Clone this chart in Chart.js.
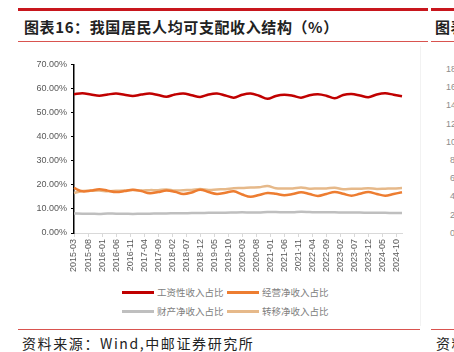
<!DOCTYPE html>
<html>
<head>
<meta charset="utf-8">
<script src="https://cdn.jsdelivr.net/npm/chart.js@4.4.1/dist/chart.umd.min.js"></script>
<style>
  html, body { margin: 0; padding: 0; background: #fff; }
  body { width: 454px; height: 352px; position: relative; overflow: hidden;
         font-family: "Noto Sans CJK SC", "Noto Sans", sans-serif; }
  .bar-top { position: absolute; top: 8px; height: 3px; background: #c8161d; }
  .bar-thin { position: absolute; height: 1px; background: #d9534f; }
  .title { position: absolute; left: 24px; top: 16px; font-size: 15px; font-weight: bold;
           color: #222; white-space: nowrap; letter-spacing: 0.6px; }
  .source { position: absolute; left: 22px; top: 333px; font-size: 14px; color: #222;
            white-space: nowrap; letter-spacing: 1.6px; }
  #chartBox { position: absolute; left: 10px; top: 55px; width: 400px; height: 225px; }
  #legend { position: absolute; left: 122px; top: 284px; width: 240px; }
  .legend-item { position: absolute; height: 16px; font-size: 9.5px; color: #808080;
                 white-space: nowrap; }
  .legend-line { position: absolute; top: 7px; width: 32px; height: 3px; }
  .legend-text { position: absolute; left: 35px; top: 0; line-height: 16px; }
  .side-num { position: absolute; font-size: 9px; color: #8c8c8c;
              font-family: "Liberation Sans", sans-serif; }
  .vline { position: absolute; left: 420px; top: 46px; width: 1px; height: 280px; background: #f2f2f2; }
</style>
</head>
<body>
<div class="bar-top" style="left:18px; width:410px;"></div>
<div class="bar-top" style="left:431px; width:30px;"></div>
<div class="title">图表16：我国居民人均可支配收入结构（%）</div>
<div class="title" style="left:435px;">图表17</div>
<div class="bar-thin" style="left:18px; width:410px; top:41px;"></div>
<div class="bar-thin" style="left:431px; width:30px; top:41px;"></div>
<div class="vline"></div>
<div id="sideNums"></div>
<div id="chartBox"><canvas id="incomeChart"></canvas></div>
<div id="legend"></div>
<div class="bar-thin" style="left:18px; width:402px; top:329px;"></div>
<div class="bar-thin" style="left:431px; width:30px; top:329px;"></div>
<div class="source">资料来源：Wind,中邮证券研究所</div>
<div class="source" style="left:436px;">资料</div>

<script>
// --- Data (quarterly, share of per-capita disposable income, %) ---

const QUARTERS = [
  "2015-03", "2015-06", "2015-09", "2015-12",
  "2016-03", "2016-06", "2016-09", "2016-12",
  "2017-03", "2017-06", "2017-09", "2017-12",
  "2018-03", "2018-06", "2018-09", "2018-12",
  "2019-03", "2019-06", "2019-09", "2019-12",
  "2020-03", "2020-06", "2020-09", "2020-12",
  "2021-03", "2021-06", "2021-09", "2021-12",
  "2022-03", "2022-06", "2022-09", "2022-12",
  "2023-03", "2023-06", "2023-09", "2023-12",
  "2024-03", "2024-06", "2024-09", "2024-12",
];

const WAGE = [
  57.6, 58.0, 57.5, 57.0,
  57.5, 57.9, 57.4, 56.9,
  57.5, 57.9, 57.3, 56.6,
  57.5, 57.9, 57.2, 56.5,
  57.5, 57.9, 57.1, 56.2,
  57.4, 57.9, 57.0, 55.7,
  56.9, 57.4, 57.0, 56.2,
  57.2, 57.6, 57.0, 55.9,
  57.3, 57.7, 57.1, 56.4,
  57.5, 58.0, 57.4, 56.8,
];

const BUSINESS = [
  18.7, 17.3, 17.6, 18.2,
  17.6, 17.0, 17.4, 18.0,
  17.4, 16.5, 17.0, 17.6,
  17.1, 16.2, 16.8, 18.0,
  17.0, 16.2, 16.7, 17.3,
  16.0, 15.0, 15.8, 16.6,
  16.3, 15.7, 16.2, 16.9,
  16.2, 15.4, 16.2, 17.0,
  16.3, 15.5, 16.3, 17.0,
  16.2, 15.5, 16.2, 16.9,
];

const PROPERTY = [
  8.1, 8.0, 8.0, 7.9,
  8.1, 8.0, 8.0, 7.9,
  8.0, 8.0, 8.1, 8.1,
  8.2, 8.2, 8.3, 8.3,
  8.4, 8.4, 8.4, 8.5,
  8.6, 8.5, 8.5, 8.7,
  8.7, 8.6, 8.6, 8.8,
  8.7, 8.6, 8.6, 8.6,
  8.5, 8.5, 8.5, 8.4,
  8.4, 8.4, 8.3, 8.3,
];

const TRANSFER = [
  16.6, 17.4, 17.5, 17.6,
  17.3, 17.5, 17.6, 17.9,
  17.6, 17.8, 17.8, 18.1,
  17.6, 17.8, 17.9, 18.3,
  17.9, 18.1, 18.2, 18.6,
  18.7, 18.9, 19.0, 19.5,
  18.6, 18.5, 18.5, 18.9,
  18.4, 18.5, 18.5, 18.8,
  18.2, 18.4, 18.4, 18.6,
  18.3, 18.4, 18.5, 18.7,
];

const SERIES = [
  { name: "工资性收入占比", values: WAGE, color: "#c00000" },
  { name: "经营净收入占比", values: BUSINESS, color: "#ed7d31" },
  { name: "财产净收入占比", values: PROPERTY, color: "#bfbfbf" },
  { name: "转移净收入占比", values: TRANSFER, color: "#e6b98a" },
];

const Y_TICKS = [0, 10, 20, 30, 40, 50, 60, 70];
const SIDE_TICKS = ["18", "16", "14", "12", "10", "8", "6", "4", "2", "0"];

// monthly category axis, labelled every 5 months
const MONTHS = [];
for (let y = 2015; y <= 2024; y++) {
  for (let m = 1; m <= 12; m++) {
    if (y === 2015 && m < 3) continue;
    MONTHS.push(y + "-" + String(m).padStart(2, "0"));
  }
}

// --- Chart ---

const tickFont = { family: "Liberation Sans", size: 9 };

new Chart(document.getElementById("incomeChart").getContext("2d"), {
  type: "line",
  data: {
    labels: MONTHS,
    datasets: SERIES.map(s => ({
      label: s.name,
      data: QUARTERS.map((q, i) => ({ x: q, y: s.values[i] })),
      borderColor: s.color,
      backgroundColor: s.color,
      borderWidth: 2.5,
      pointRadius: 0,
      tension: 0.35,
      fill: false,
    })),
  },
  options: {
    responsive: true,
    maintainAspectRatio: false,
    animation: false,
    layout: { padding: { top: 5, right: 8, left: 0, bottom: 0 } },
    plugins: { legend: { display: false }, tooltip: { enabled: false } },
    scales: {
      x: {
        type: "category",
        offset: false,
        border: { color: "#d9d9d9", width: 1 },
        grid: { drawOnChartArea: false, drawTicks: true, tickLength: 4, color: "#d9d9d9" },
        ticks: {
          autoSkip: false,
          maxRotation: 90,
          minRotation: 90,
          padding: 2,
          color: "#595959",
          font: tickFont,
          callback: function (v, i) { return i % 5 === 0 ? MONTHS[i] : null; },
        },
        afterFit: scale => { scale.height = 47; },
      },
      y: {
        min: Y_TICKS[0],
        max: Y_TICKS[Y_TICKS.length - 1],
        border: { color: "#000", width: 1.5 },
        grid: { drawOnChartArea: false, drawTicks: true, tickLength: 3, color: "#000" },
        afterBuildTicks: scale => { scale.ticks = Y_TICKS.map(v => ({ value: v })); },
        ticks: {
          padding: 4,
          color: "#595959",
          font: tickFont,
          callback: v => v.toFixed(2) + "%",
        },
        afterFit: scale => { scale.width = 64; },
      },
    },
  },
});

// --- Legend ---

const legendEl = document.getElementById("legend");
SERIES.forEach((s, i) => {
  const item = document.createElement("div");
  item.className = "legend-item";
  item.style.left = (i % 2) * 105 + "px";
  item.style.top = Math.floor(i / 2) * 19 + "px";
  const line = document.createElement("div");
  line.className = "legend-line";
  line.style.background = s.color;
  const text = document.createElement("span");
  text.className = "legend-text";
  text.textContent = s.name;
  item.appendChild(line);
  item.appendChild(text);
  legendEl.appendChild(item);
});

// --- Neighbouring chart's axis fragment ---

const sideEl = document.getElementById("sideNums");
SIDE_TICKS.forEach((t, i) => {
  const d = document.createElement("div");
  d.className = "side-num";
  d.textContent = t;
  d.style.left = (t.length > 1 ? 446 : 450) + "px";
  d.style.top = (64 + i * 18.2) + "px";
  sideEl.appendChild(d);
});
</script>
</body>
</html>
